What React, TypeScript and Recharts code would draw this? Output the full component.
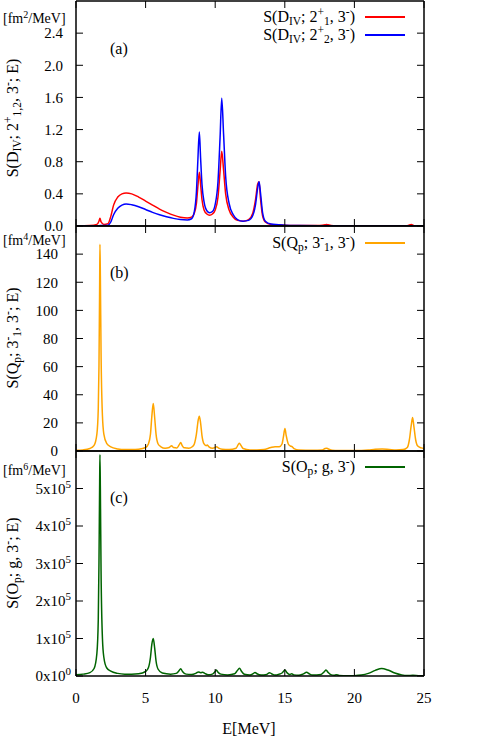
import React from 'react';
import { LineChart, Line, XAxis, YAxis } from 'recharts';

const FONT = "'Liberation Serif', 'Times New Roman', Times, 'DejaVu Serif', 'Noto Serif', serif";

// ---------- Panel (a) ----------
const energyA = [0, 1.0, 1.5, 1.65, 1.72, 1.8, 2.0, 2.3, 2.5, 2.7, 3.0, 3.3, 3.6, 4.0, 4.5, 5.0, 5.5, 6.0, 6.5, 7.0, 7.5, 8.0, 8.3, 8.5, 8.65, 8.75, 8.86, 8.95, 9.05, 9.2, 9.4, 9.6, 9.8, 10.0, 10.2, 10.35, 10.47, 10.6, 10.75, 11.0, 11.3, 11.6, 12.0, 12.4, 12.7, 12.9, 13.05, 13.15, 13.25, 13.4, 13.6, 14.0, 15.0, 16.0, 17.5, 17.9, 18.0, 18.1, 18.5, 20.0, 22.0, 23.8, 24.0, 24.1, 24.2, 24.4, 25.0];
const redA = [0, 0.005, 0.02, 0.06, 0.095, 0.05, 0.02, 0.03, 0.12, 0.26, 0.36, 0.40, 0.41, 0.40, 0.36, 0.31, 0.26, 0.21, 0.17, 0.135, 0.11, 0.10, 0.11, 0.16, 0.28, 0.48, 0.67, 0.52, 0.33, 0.2, 0.15, 0.135, 0.15, 0.2, 0.36, 0.68, 0.93, 0.7, 0.4, 0.2, 0.11, 0.07, 0.06, 0.08, 0.16, 0.33, 0.52, 0.55, 0.35, 0.13, 0.05, 0.02, 0.01, 0.005, 0.005, 0.015, 0.02, 0.015, 0.003, 0, 0, 0.003, 0.015, 0.02, 0.01, 0.002, 0];
const blueA = [0, 0, 0, 0.002, 0.005, 0.005, 0.005, 0.01, 0.05, 0.14, 0.22, 0.26, 0.275, 0.265, 0.24, 0.205, 0.17, 0.14, 0.115, 0.095, 0.08, 0.075, 0.09, 0.18, 0.42, 0.8, 1.17, 0.85, 0.52, 0.3, 0.19, 0.165, 0.18, 0.27, 0.55, 1.1, 1.59, 1.15, 0.62, 0.28, 0.14, 0.08, 0.06, 0.07, 0.13, 0.27, 0.47, 0.55, 0.42, 0.17, 0.06, 0.025, 0.01, 0.005, 0.003, 0.004, 0.005, 0.004, 0.002, 0, 0, 0.001, 0.003, 0.004, 0.003, 0.001, 0];
const ticksA = [0, 0.4, 0.8, 1.2, 1.6, 2.0, 2.4];

// ---------- Panel (b) ----------
const energyB = [0, 0.5, 1.0, 1.3, 1.5, 1.6, 1.65, 1.7, 1.72, 1.75, 1.8, 1.9, 2.0, 2.2, 2.5, 3.0, 3.5, 4.0, 4.5, 5.0, 5.2, 5.35, 5.45, 5.55, 5.65, 5.75, 5.9, 6.1, 6.4, 6.7, 6.87, 7.0, 7.25, 7.42, 7.52, 7.62, 7.75, 7.9, 8.1, 8.35, 8.5, 8.65, 8.78, 8.86, 8.95, 9.05, 9.2, 9.35, 9.42, 9.55, 9.8, 10.0, 10.1, 10.25, 10.5, 11.0, 11.5, 11.65, 11.74, 11.85, 12.0, 12.5, 13.0, 13.5, 14.0, 14.3, 14.6, 14.8, 14.9, 15.01, 15.1, 15.25, 15.4, 15.5, 15.7, 16.0, 17.0, 17.7, 17.9, 18.0, 18.1, 18.4, 19.0, 20.0, 21.0, 21.5, 22.0, 22.5, 23.0, 23.5, 23.8, 23.95, 24.08, 24.18, 24.28, 24.4, 24.55, 24.8, 25.0];
const orangeB = [0.5, 0.8, 1.8, 4, 12, 30, 60, 120, 147, 125, 70, 25, 12, 5.5, 3, 1.5, 1, 1, 1.3, 2.5, 5, 12, 25, 33.8, 24, 12, 5, 3, 2, 2.5, 3.8, 2.5, 2.2, 4.5, 6, 4, 2.3, 2.2, 2, 3, 5, 12, 22, 24.7, 20, 11, 5, 3.8, 4.2, 3, 2, 2.5, 3, 2, 1.2, 1, 2, 4.5, 5.5, 4, 1.8, 0.8, 0.8, 1, 2.5, 3, 3, 5, 10, 16, 11, 5, 3.5, 3.2, 1.5, 0.8, 0.6, 0.8, 1.8, 2, 1.6, 0.6, 0.4, 0.3, 0.7, 1.2, 1.4, 1.1, 0.8, 1, 2.5, 8, 18, 23.8, 17, 8, 3.5, 2.2, 1.8];
const ticksB = [0, 20, 40, 60, 80, 100, 120, 140];

// ---------- Panel (c) ----------
const energyC = [0, 0.5, 1.0, 1.3, 1.5, 1.6, 1.65, 1.7, 1.72, 1.75, 1.8, 1.9, 2.0, 2.2, 2.5, 3.0, 3.5, 4.0, 4.5, 5.0, 5.2, 5.35, 5.45, 5.55, 5.65, 5.75, 5.9, 6.2, 6.8, 7.2, 7.4, 7.52, 7.65, 7.9, 8.3, 8.6, 8.8, 8.95, 9.1, 9.25, 9.5, 9.8, 10.0, 10.08, 10.2, 10.4, 10.9, 11.4, 11.6, 11.74, 11.9, 12.1, 12.5, 12.75, 12.86, 13.0, 13.3, 13.7, 13.9, 14.05, 14.3, 14.6, 14.8, 15.01, 15.15, 15.35, 15.5, 15.65, 16.0, 16.3, 16.57, 16.75, 17.0, 17.6, 17.85, 17.96, 18.1, 18.35, 18.55, 18.7, 18.9, 19.5, 20.0, 20.5, 21.0, 21.5, 21.96, 22.4, 22.9, 23.4, 23.8, 24.2, 24.6, 25.0];
const greenC = [3000, 5000, 9000, 20000, 60000, 150000, 300000, 520000, 590000, 500000, 280000, 100000, 50000, 22000, 13000, 7000, 5000, 5000, 6000, 12000, 22000, 50000, 85000, 100000, 75000, 40000, 18000, 8000, 5000, 7000, 14000, 19500, 12000, 5000, 4000, 7000, 11000, 9000, 10000, 7000, 3500, 5000, 12000, 16000, 10000, 5000, 3000, 6000, 15000, 20500, 12000, 4500, 3000, 7000, 9500, 6000, 2500, 4000, 9000, 6000, 2500, 5000, 8000, 16000, 9000, 4000, 6000, 3000, 2000, 5000, 10000, 6000, 2500, 4000, 12000, 16000, 10000, 3000, 2000, 3500, 1500, 800, 1000, 2500, 7000, 15000, 20000, 16000, 8000, 3000, 1500, 1800, 800, 500];
const ticksC = [0, 100000, 200000, 300000, 400000, 500000];

const ticksX = [0, 5, 10, 15, 20, 25];

const dataA = energyA.map((e, i) => ({ E: e, red: redA[i], blue: blueA[i] }));
const dataB = energyB.map((e, i) => ({ E: e, orange: orangeB[i] }));
const dataC = energyC.map((e, i) => ({ E: e, green: greenC[i] }));

const TXT = { fontFamily: FONT, fontSize: 15, fill: '#000' };
const AXIS = { stroke: '#000', strokeWidth: 1.5 };

const makeLeftTick = (labelX: number, kind: 'a' | 'b' | 'c') => (props: any) => {
  const { x, y, payload } = props;
  const v = payload.value as number;
  let label: React.ReactNode;
  if (kind === 'a') label = v.toFixed(1);
  else if (kind === 'b') label = String(v);
  else {
    const m = v === 0 ? 0 : Math.round(v / 100000);
    const ex = v === 0 ? 0 : 5;
    label = (
      <>
        <tspan>{`${m}x10`}</tspan>
        <tspan dy={-6} fontSize={11}>{ex}</tspan>
      </>
    );
  }
  return (
    <g>
      <line x1={x} y1={y} x2={x + 7} y2={y} stroke="#000" strokeWidth={1} />
      <text x={labelX} y={y + 5.3} textAnchor="end" {...TXT}>{label}</text>
    </g>
  );
};

const RightTick = (props: any) => {
  const { x, y } = props;
  return <line x1={x} y1={y} x2={x - 7} y2={y} stroke="#000" strokeWidth={1} />;
};

const TopTick = (props: any) => {
  const { x, y } = props;
  return <line x1={x} y1={y} x2={x} y2={y + 7} stroke="#000" strokeWidth={1} />;
};

const makeBottomTick = (withLabel: boolean) => (props: any) => {
  const { x, y, payload } = props;
  return (
    <g>
      <line x1={x} y1={y} x2={x} y2={y - 7} stroke="#000" strokeWidth={1} />
      {withLabel && (
        <text x={x} y={y + 27} textAnchor="middle" {...TXT}>{payload.value}</text>
      )}
    </g>
  );
};

const Sup = ({ children }: { children: React.ReactNode }) => (
  <span style={{ fontSize: '0.72em', position: 'relative', top: '-0.5em' }}>{children}</span>
);
const Sub = ({ children }: { children: React.ReactNode }) => (
  <span style={{ fontSize: '0.72em', position: 'relative', top: '0.3em' }}>{children}</span>
);

const baseText: React.CSSProperties = {
  position: 'absolute',
  fontFamily: FONT,
  fontSize: 16,
  lineHeight: '16px',
  color: '#000',
  whiteSpace: 'nowrap',
};

const unitText: React.CSSProperties = { ...baseText, fontSize: 14, lineHeight: '13px' };

const LegendRow = ({ cy, color, children }: { cy: number; color: string; children: React.ReactNode }) => (
  <>
    <div style={{ ...baseText, right: 498 - 355, top: cy - 8 }}>{children}</div>
    <div style={{ position: 'absolute', left: 365, width: 40, top: cy - 0.75, height: 1.5, background: color }} />
  </>
);

const RotTitle = ({ cx, cy, children }: { cx: number; cy: number; children: React.ReactNode }) => (
  <div style={{ ...baseText, left: cx, top: cy, transform: 'translate(-50%, -50%) rotate(-90deg)' }}>{children}</div>
);

const PAD_TOP = 12;
const PLOT_H = 225;

const Panel = ({ plotTop, padBottom, data, domain, yTicks, kind, labelX, showX, children }: any) => (
  <div style={{ position: 'absolute', left: 0, top: plotTop - PAD_TOP }}>
    <LineChart
      width={498}
      height={PAD_TOP + PLOT_H + padBottom}
      data={data}
      margin={{ top: PAD_TOP - 1, right: 73, bottom: padBottom - 1, left: 0 }}
    >
      <XAxis
        xAxisId="b"
        dataKey="E"
        type="number"
        domain={[0, 25]}
        ticks={ticksX}
        interval={0}
        height={1}
        tickSize={0}
        tickMargin={0}
        tickLine={false}
        axisLine={AXIS}
        tick={makeBottomTick(showX)}
        allowDataOverflow
      />
      <XAxis
        xAxisId="t"
        orientation="top"
        dataKey="E"
        type="number"
        domain={[0, 25]}
        ticks={ticksX}
        interval={0}
        height={1}
        tickSize={0}
        tickMargin={0}
        tickLine={false}
        axisLine={AXIS}
        tick={TopTick}
        allowDataOverflow
      />
      <YAxis
        yAxisId="l"
        type="number"
        domain={domain}
        ticks={yTicks}
        interval={0}
        width={76}
        tickSize={0}
        tickMargin={0}
        tickLine={false}
        axisLine={AXIS}
        tick={makeLeftTick(labelX, kind)}
        allowDataOverflow
      />
      <YAxis
        yAxisId="r"
        orientation="right"
        type="number"
        domain={domain}
        ticks={yTicks}
        interval={0}
        width={1}
        tickSize={0}
        tickMargin={0}
        tickLine={false}
        axisLine={AXIS}
        tick={RightTick}
        allowDataOverflow
      />
      {children}
    </LineChart>
  </div>
);

export default function App() {
  return (
    <div style={{ position: 'absolute', left: 0, top: 0, width: 498, height: 750, background: '#fff', overflow: 'hidden' }}>
      <Panel plotTop={1} padBottom={15} data={dataA} domain={[0, 2.8]} yTicks={ticksA} kind="a" labelX={63} showX={false}>
        <Line xAxisId="b" yAxisId="l" type="monotone" dataKey="red" stroke="#ff0000" strokeWidth={1.5} dot={false} isAnimationActive={false} />
        <Line xAxisId="b" yAxisId="l" type="monotone" dataKey="blue" stroke="#0000ff" strokeWidth={1.5} dot={false} isAnimationActive={false} />
      </Panel>
      <Panel plotTop={226} padBottom={15} data={dataB} domain={[0, 160]} yTicks={ticksB} kind="b" labelX={58} showX={false}>
        <Line xAxisId="b" yAxisId="l" type="monotone" dataKey="orange" stroke="#ffa500" strokeWidth={1.5} dot={false} isAnimationActive={false} />
      </Panel>
      <Panel plotTop={451} padBottom={74} data={dataC} domain={[0, 600000]} yTicks={ticksC} kind="c" labelX={71} showX={true}>
        <Line xAxisId="b" yAxisId="l" type="monotone" dataKey="green" stroke="#006400" strokeWidth={1.5} dot={false} isAnimationActive={false} />
      </Panel>

      {/* unit labels */}
      <div style={{ ...unitText, left: 3, top: 12 }}>[fm<Sup>2</Sup>/MeV]</div>
      <div style={{ ...unitText, left: 3, top: 234 }}>[fm<Sup>4</Sup>/MeV]</div>
      <div style={{ ...unitText, left: 3, top: 464 }}>[fm<Sup>6</Sup>/MeV]</div>

      {/* panel labels */}
      <div style={{ ...baseText, left: 110, top: 41 }}>(a)</div>
      <div style={{ ...baseText, left: 110, top: 265 }}>(b)</div>
      <div style={{ ...baseText, left: 110, top: 490 }}>(c)</div>

      {/* y titles */}
      <RotTitle cx={13} cy={118}>
        S(D<Sub>IV</Sub>; 2<Sup>+</Sup><Sub>1,2</Sub>, 3<Sup>-</Sup>; E)
      </RotTitle>
      <RotTitle cx={13} cy={338}>
        S(Q<Sub>p</Sub>; 3<Sup>-</Sup><Sub>1</Sub>, 3<Sup>-</Sup>; E)
      </RotTitle>
      <RotTitle cx={13} cy={563}>
        S(O<Sub>p</Sub>; g, 3<Sup>-</Sup>; E)
      </RotTitle>

      {/* legends */}
      <LegendRow cy={17} color="#ff0000">
        S(D<Sub>IV</Sub>; 2<Sup>+</Sup><Sub>1</Sub>, 3<Sup>-</Sup>)
      </LegendRow>
      <LegendRow cy={35} color="#0000ff">
        S(D<Sub>IV</Sub>; 2<Sup>+</Sup><Sub>2</Sub>, 3<Sup>-</Sup>)
      </LegendRow>
      <LegendRow cy={243} color="#ffa500">
        S(Q<Sub>p</Sub>; 3<Sup>-</Sup><Sub>1</Sub>, 3<Sup>-</Sup>)
      </LegendRow>
      <LegendRow cy={467} color="#006400">
        S(O<Sub>p</Sub>; g, 3<Sup>-</Sup>)
      </LegendRow>

      {/* x title */}
      <div style={{ ...baseText, left: 249, top: 729, transform: 'translate(-50%, -50%)' }}>E[MeV]</div>
    </div>
  );
}
